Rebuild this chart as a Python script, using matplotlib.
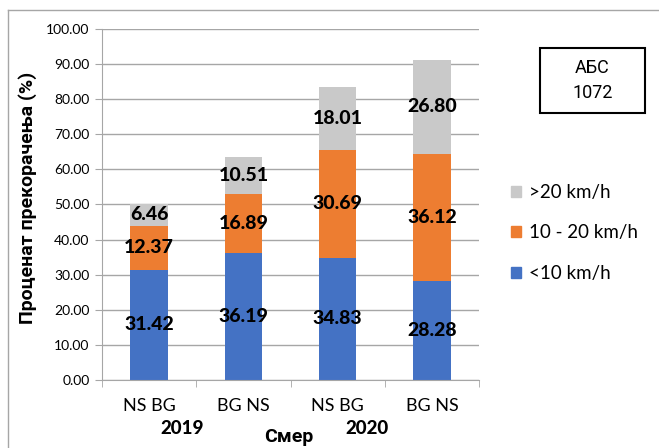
import matplotlib.pyplot as plt
import numpy as np
from matplotlib.lines import Line2D
from matplotlib.patches import Patch, Rectangle

plt.rcParams['font.family'] = ['Lato', 'DejaVu Sans']
CYR = ['Roboto', 'DejaVu Sans']

# data
directions = ['NS BG', 'BG NS', 'NS BG', 'BG NS']
years = ['2019', '2020']
below_10 = [31.42, 36.19, 34.83, 28.28]
from_10_to_20 = [12.37, 16.89, 30.69, 36.12]
above_20 = [6.46, 10.51, 18.01, 26.80]
series_names = ['<10 km/h', '10 - 20 km/h', '>20 km/h']
series_colors = ['#4472C4', '#ED7D31', '#C9C9C9']
y_ticks = np.arange(0, 101, 10)

fig = plt.figure(figsize=(6.59, 4.48), dpi=100)
ax = fig.add_axes([0.1548, 0.1518, 0.5721, 0.7835])

x = np.arange(len(directions))
bottom = np.zeros(len(directions))
for values, name, color in zip([below_10, from_10_to_20, above_20], series_names, series_colors):
    bars = ax.bar(x, values, width=0.4, bottom=bottom, color=color, label=name, zorder=2)
    labels = [f'{v:.2f}' for v in values]
    ax.bar_label(bars, labels=labels, label_type='center', fontsize=14,
                 fontweight='black', color='black')
    bottom += np.array(values)

# axes styling (Excel look)
ax.set_xlim(-0.5, len(directions) - 0.5)
ax.set_ylim(0, 100)
ax.set_yticks(y_ticks)
ax.set_yticklabels([f'{v:.2f}' for v in y_ticks], fontsize=10)
ax.set_xticks(x)
ax.set_xticklabels(directions, fontsize=13)
ax.set_xticks(np.arange(-0.5, len(directions)), minor=True)
ax.tick_params(axis='x', which='major', length=0, pad=13)
ax.tick_params(axis='x', which='minor', length=5, color='#A6A6A6')
ax.tick_params(axis='y', length=5, color='#A6A6A6', pad=4)
ax.yaxis.grid(True, color='#A6A6A6', linewidth=1, zorder=0)
ax.set_axisbelow(True)
for side in ['top', 'right']:
    ax.spines[side].set_visible(False)
for side in ['left', 'bottom']:
    ax.spines[side].set_color('#A6A6A6')

# y axis title, placed where the reference has it
fig.text(28 / 659, 1 - 197.5 / 448, 'Проценат прекорачења (%)', rotation=90,
         ha='center', va='center', fontsize=14, fontweight='bold', family=CYR)

# year labels and axis title under the categories
tr = ax.get_xaxis_transform()
ax.text(0.35, -0.138, years[0], transform=tr, ha='center', va='center',
        fontsize=13.5, fontweight='black')
ax.text(2.31, -0.138, years[1], transform=tr, ha='center', va='center',
        fontsize=13.5, fontweight='black')
ax.text(1.48, -0.163, 'Смер', transform=tr, ha='center', va='center',
        fontsize=14, fontweight='bold', family=CYR)

# legend, top entry first
handles = [Patch(color=c) for c in series_colors][::-1]
fig.legend(handles, series_names[::-1], loc='upper left',
           bbox_to_anchor=(0.75, 0.627), frameon=False, fontsize=13.5,
           handlelength=0.55, handleheight=0.55, handletextpad=0.4,
           labelspacing=1.25)

# АБС box
fig.add_artist(Rectangle((540 / 659, 1 - 113 / 448), 105 / 659, 65 / 448,
                         transform=fig.transFigure, facecolor='white',
                         edgecolor='black', linewidth=1.5))
fig.text(592.5 / 659, 1 - 80.5 / 448, 'АБС\n1072', ha='center', va='center',
         fontsize=13, linespacing=1.45, family=CYR)

# chart area border (cropped on the right and bottom)
fig.add_artist(Line2D([8 / 659, 1], [1 - 10 / 448, 1 - 10 / 448],
                      transform=fig.transFigure, color='#A6A6A6', linewidth=1))
fig.add_artist(Line2D([8 / 659, 8 / 659], [0, 1 - 10 / 448],
                      transform=fig.transFigure, color='#A6A6A6', linewidth=1))

fig.savefig('out.png', dpi=100)
plt.close()
